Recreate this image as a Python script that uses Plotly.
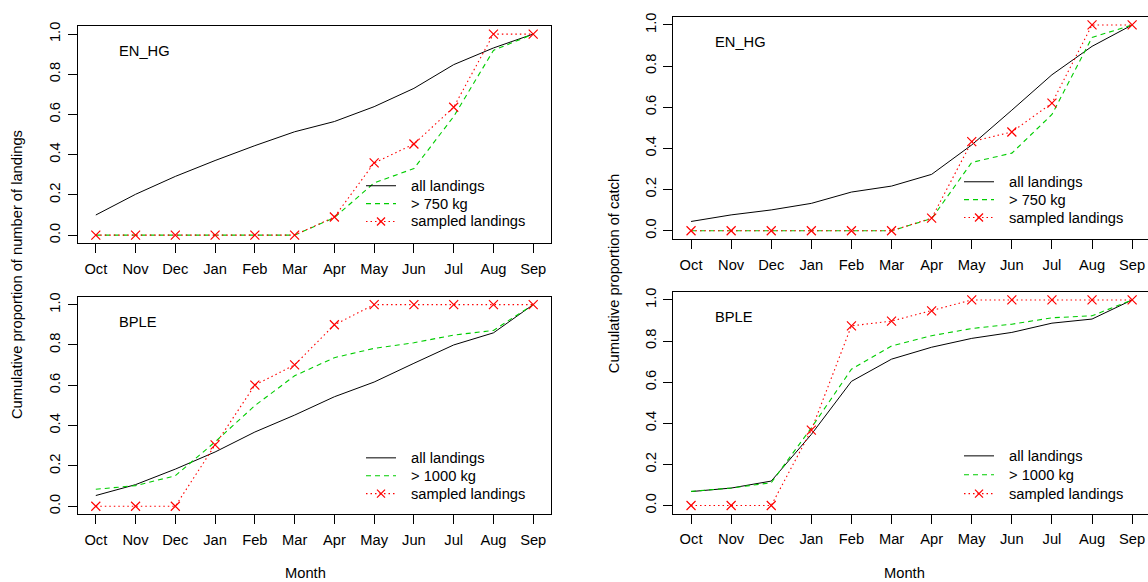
import plotly.graph_objects as go

W, H = 1148, 582

months = ["Oct", "Nov", "Dec", "Jan", "Feb", "Mar", "Apr", "May", "Jun", "Jul", "Aug", "Sep"]
y_ticks = [0.0, 0.2, 0.4, 0.6, 0.8, 1.0]
y_ticktext = ["0.0", "0.2", "0.4", "0.6", "0.8", "1.0"]

# EN_HG, cumulative proportion of number of landings
enhg_land_all = [0.100, 0.203, 0.292, 0.371, 0.445, 0.514, 0.565, 0.639, 0.730, 0.848, 0.931, 1.0]
enhg_land_big = [0, 0, 0, 0, 0, 0, 0.087, 0.260, 0.331, 0.590, 0.919, 1.0]
enhg_land_samp = [0, 0, 0, 0, 0, 0, 0.090, 0.359, 0.453, 0.636, 1.0, 1.0]
# BPLE, cumulative proportion of number of landings
bple_land_all = [0.053, 0.107, 0.184, 0.269, 0.368, 0.452, 0.543, 0.616, 0.709, 0.800, 0.860, 1.0]
bple_land_big = [0.084, 0.102, 0.151, 0.319, 0.499, 0.647, 0.737, 0.783, 0.811, 0.849, 0.872, 1.0]
bple_land_samp = [0, 0, 0, 0.304, 0.601, 0.701, 0.900, 1.0, 1.0, 1.0, 1.0, 1.0]
# EN_HG, cumulative proportion of catch
enhg_catch_all = [0.045, 0.077, 0.101, 0.133, 0.188, 0.217, 0.274, 0.417, 0.586, 0.758, 0.896, 1.0]
enhg_catch_big = [0, 0, 0, 0, 0, 0, 0.059, 0.332, 0.377, 0.565, 0.939, 1.0]
enhg_catch_samp = [0, 0, 0, 0, 0, 0, 0.061, 0.433, 0.480, 0.620, 1.0, 1.0]
# BPLE, cumulative proportion of catch
bple_catch_all = [0.068, 0.085, 0.119, 0.346, 0.604, 0.712, 0.770, 0.813, 0.842, 0.887, 0.907, 1.0]
bple_catch_big = [0.069, 0.085, 0.111, 0.378, 0.663, 0.776, 0.826, 0.861, 0.882, 0.913, 0.923, 1.0]
bple_catch_samp = [0, 0, 0, 0.367, 0.874, 0.897, 0.947, 1.0, 1.0, 1.0, 1.0, 1.0]

series_names_top = ["all landings", "> 750 kg", "sampled landings"]
series_names_bottom = ["all landings", "> 1000 kg", "sampled landings"]

FONT = "Liberation Sans, Arial, sans-serif"
FS = 14.7
BLACK = "#000000"
GREEN = "#00CD00"
RED = "#FF0000"
GREEN_DASH = "5px,4px"
RED_DOT = "1.5px,3px"

panels = [
    # (xaxis, yaxis, label, data, names)
    ("x", "y", "EN_HG", (enhg_land_all, enhg_land_big, enhg_land_samp), series_names_top),
    ("x2", "y2", "EN_HG", (enhg_catch_all, enhg_catch_big, enhg_catch_samp), series_names_top),
    ("x3", "y3", "BPLE", (bple_land_all, bple_land_big, bple_land_samp), series_names_bottom),
    ("x4", "y4", "BPLE", (bple_catch_all, bple_catch_big, bple_catch_samp), series_names_bottom),
]

fig = go.Figure()
for xa, ya, label, (s_all, s_big, s_samp), names in panels:
    fig.add_trace(go.Scatter(x=months, y=s_all, xaxis=xa, yaxis=ya, mode="lines",
                             name=names[0], line=dict(color=BLACK, width=1), showlegend=False))
    fig.add_trace(go.Scatter(x=months, y=s_big, xaxis=xa, yaxis=ya, mode="lines",
                             name=names[1], line=dict(color=GREEN, width=1.1, dash=GREEN_DASH),
                             showlegend=False))
    fig.add_trace(go.Scatter(x=months, y=s_samp, xaxis=xa, yaxis=ya, mode="lines+markers",
                             name=names[2], line=dict(color=RED, width=1.1, dash=RED_DOT),
                             marker=dict(symbol="x-thin-open", size=9, color=RED,
                                         line=dict(color=RED, width=1.2)),
                             showlegend=False))

def px_x(p):
    return p / W

def px_y(p):
    return 1 - p / H

# panel geometry (pixels)
left_x = (78.3, 550.7)
right_x = (673.4, 1148.0)
month_unit_right = 40.1
tl_y = (22.2, 240.8)
bl_y = (294.6, 513.8)
tr_y = (12.8, 236.6)
br_y = (289.7, 513.3)

xr_left = [-0.44, 11.44]
xr_right = [-0.44, -0.44 + (right_x[1] - right_x[0]) / month_unit_right]

def xaxis_cfg(dom, rng, anchor):
    return dict(domain=[px_x(dom[0]), px_x(dom[1])], range=rng, anchor=anchor,
                type="category", categoryorder="array", categoryarray=months,
                showline=True, linecolor="black", linewidth=1, mirror=True,
                ticks="outside", ticklen=9, tickcolor="black", tickwidth=1,
                ticklabelstandoff=3,
                showgrid=False, zeroline=False,
                tickfont=dict(family=FONT, size=FS, color="black"))

def yaxis_cfg(dom, anchor, mirror):
    return dict(domain=[px_y(dom[1]), px_y(dom[0])], range=[-0.04, 1.04], anchor=anchor,
                tickvals=y_ticks, ticktext=y_ticktext, tickangle=-90,
                showline=True, linecolor="black", linewidth=1, mirror=mirror,
                ticks="outside", ticklen=9, tickcolor="black", tickwidth=1,
                ticklabelstandoff=2,
                showgrid=False, zeroline=False,
                tickfont=dict(family=FONT, size=FS, color="black"))

fig.update_layout(
    width=W, height=H,
    margin=dict(l=0, r=0, t=0, b=0),
    paper_bgcolor="white", plot_bgcolor="white",
    showlegend=False,
    xaxis=xaxis_cfg(left_x, xr_left, "y"),
    yaxis=yaxis_cfg(tl_y, "x", True),
    xaxis2=xaxis_cfg(right_x, xr_right, "y2"),
    yaxis2=yaxis_cfg(tr_y, "x2", False),
    xaxis3=xaxis_cfg(left_x, xr_left, "y3"),
    yaxis3=yaxis_cfg(bl_y, "x3", True),
    xaxis4=xaxis_cfg(right_x, xr_right, "y4"),
    yaxis4=yaxis_cfg(br_y, "x4", False),
)

annotations = []
shapes = []

def text_ann(x, y, text, xanchor="left", angle=0, yanchor="middle", pad=1):
    annotations.append(dict(xref="paper", yref="paper", x=px_x(x), y=px_y(y), text=text,
                            showarrow=False, xanchor=xanchor, yanchor=yanchor,
                            textangle=angle, borderpad=pad,
                            font=dict(family=FONT, size=FS, color="black")))

# panel labels
text_ann(117, 47, "EN_HG")
text_ann(117, 320, "BPLE")
text_ann(713, 38, "EN_HG")
text_ann(713, 315, "BPLE")

# axis titles
text_ann(17, 273, "Cumulative proportion of number of landings", xanchor="center", angle=-90)
text_ann(614, 272, "Cumulative proportion of catch", xanchor="center", angle=-90)
text_ann(306, 582, "Month", xanchor="center", yanchor="bottom", pad=0)
text_ann(904, 582, "Month", xanchor="center", yanchor="bottom", pad=0)

# legends (drawn manually to match R legend layout)
def legend(x0, rows, names):
    x1 = x0 + 30
    tx = x0 + 43
    styles = [(BLACK, "solid", 1), (GREEN, GREEN_DASH, 1.1), (RED, RED_DOT, 1.1)]
    for (col, dash, w), ry, nm in zip(styles, rows, names):
        shapes.append(dict(type="line", xref="paper", yref="paper",
                           x0=px_x(x0), x1=px_x(x1), y0=px_y(ry), y1=px_y(ry),
                           line=dict(color=col, width=w, dash=dash)))
        text_ann(tx, ry, nm)
    # cross marker in the middle of the sampled-landings sample
    cx, cy, r = x0 + 15, rows[2], 4
    for a, b in [((cx - r, cy - r), (cx + r, cy + r)), ((cx - r, cy + r), (cx + r, cy - r))]:
        shapes.append(dict(type="line", xref="paper", yref="paper",
                           x0=px_x(a[0]), y0=px_y(a[1]), x1=px_x(b[0]), y1=px_y(b[1]),
                           line=dict(color=RED, width=1.2)))

legend(366, [183, 201, 219], series_names_top)
legend(366, [457, 475, 493], series_names_bottom)
legend(964, [179, 197, 215], series_names_top)
legend(964, [455, 474, 493], series_names_bottom)

fig.update_layout(annotations=annotations, shapes=shapes)

fig.write_html("out.html")
